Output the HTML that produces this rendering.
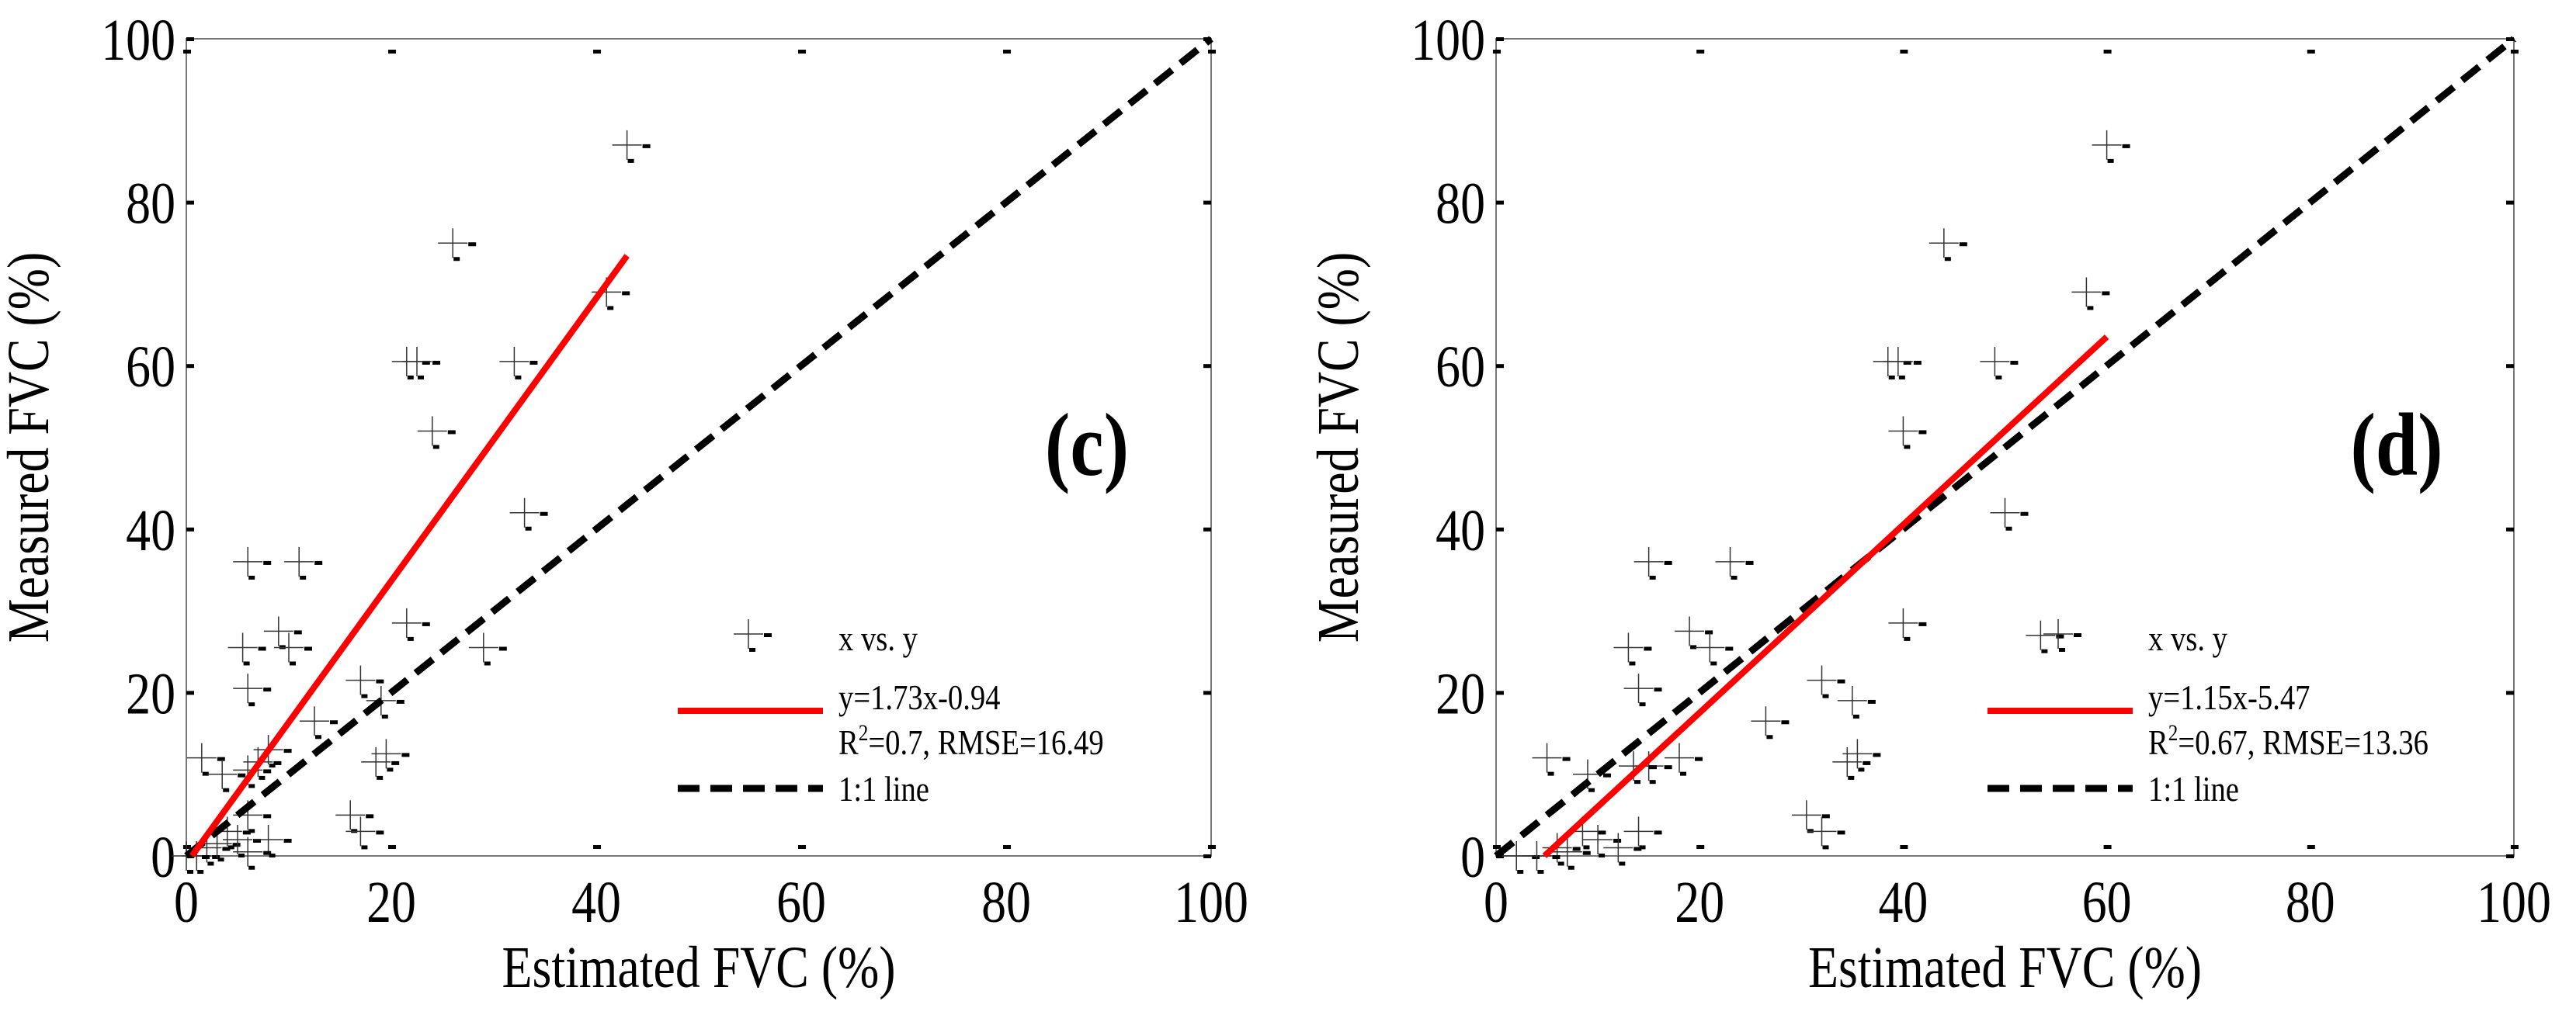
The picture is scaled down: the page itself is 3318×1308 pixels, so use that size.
<!DOCTYPE html>
<html><head><meta charset="utf-8"><style>
html,body{margin:0;padding:0;background:#fff;}
svg{display:block;}
svg text{font-family:"Liberation Serif","DejaVu Serif",serif;}
</style></head><body>
<svg id="fig" width="3318" height="1308" viewBox="0 0 3318 1308" xmlns="http://www.w3.org/2000/svg"></svg>
<script>
const ticks = [0,20,40,60,80,100];
const tickLabels = ["0","20","40","60","80","100"];
const cX = [43,26,41,21.5,22.5,32,24,33,6,11,9,21.5,5.5,10,29,6,17,19,12.5,19.5,18.5,1.5,7,6,8,3.5,16,17,6,4,2,1,0,3,5,8,6];
const cY = [87,75,69,60.5,60.5,60.5,52,42,36,36,27.5,28.5,25.5,25.5,25.5,20.5,21.5,19,16.5,12.5,11.5,12,11.5,10.5,13,10,5,3,5,3,1,0,0,1.5,2,2,0.5];
const dX = [60,44,58,38.5,39.5,49,40,50,15,23,19,40,53.5,13,21,14,32,35,26.5,35.5,34.5,5,18,15,13.5,9,30.5,32,14,8.5,10,6,2,4,7,12];
const dY = [87,75,69,60.5,60.5,60.5,52,42,36,36,27.5,28.5,27,25.5,25.5,20.5,21.5,19,16.5,12.5,11.5,12,12,11,11,10,5,3,3,3,2,1,0,0,0.5,1];
const cFit = [1.73,-0.94]; const cFitRange=[0.55,43];
const dFit = [1.15,-5.47]; const dFitRange=[4.76,60];
const NS="http://www.w3.org/2000/svg";
const svg=document.getElementById('fig');
function mk(tag,attrs,parent){const e=document.createElementNS(NS,tag);for(const k in attrs)e.setAttribute(k,attrs[k]);(parent||svg).appendChild(e);return e;}
function txt(parent,x,y,size,anchor,str,extra){
  const t=mk('text',Object.assign({x:0,y:0,'font-size':size,'text-anchor':anchor,'font-family':'Liberation Serif, serif',transform:`translate(${x},${y}) scale(0.84,1)`},extra||{}),parent);
  t.textContent=str;return t;
}
function panel(L,R,T,B,xs,ys,fit,range,tag,eq,stats){
  const g=mk('g',{});
  
  
  const sx=v=>L+(R-L)*v/100, sy=v=>B-(B-T)*v/100;
  const frame=mk('rect',{x:L,y:T,width:R-L,height:B-T,fill:'none',stroke:'#777','stroke-width':2},g);
  
  
  ticks.forEach((t,i)=>{
    mk('rect',{x:sx(t)-4,y:T+14,width:10,height:5,fill:'#000'},g);
    mk('rect',{x:sx(t)-4,y:B-14,width:10,height:5,fill:'#000'},g);
    mk('rect',{x:L,y:sy(t)-2,width:10,height:5,fill:'#000'},g);
    mk('rect',{x:R-10,y:sy(t)-2,width:10,height:5,fill:'#000'},g);
    const xl=txt(g,sx(t),1188,76,'middle',tickLabels[i]);
    
    
    const yl=txt(g,L-14,sy(t)+27,76,'end',tickLabels[i]);
    
    
  });
  const xt=txt(g,(L+R)/2,1272,76,'middle','Estimated FVC (%)');
  
  
  const yt=mk('text',{x:0,y:0,'font-size':76,'text-anchor':'middle','font-family':'Liberation Serif, serif',transform:`translate(${L-178},${(T+B)/2}) rotate(-90) scale(0.84,1)`},g);yt.textContent='Measured FVC (%)';
  
  
  xs.forEach((x,i)=>{
    const px=sx(x),py=sy(ys[i]);
    const m=mk('g',{},g);
    
    
    mk('line',{x1:px-19,y1:py,x2:px+19,y2:py,stroke:'#333','stroke-width':1.5},m);
    mk('line',{x1:px,y1:py-19,x2:px,y2:py+19,stroke:'#333','stroke-width':1.5},m);
    mk('rect',{x:px+20,y:py-1,width:10,height:5,fill:'#000'},m);
    mk('rect',{x:px+1,y:py+18,width:8,height:5,fill:'#000'},m);
  });
  const one=mk('line',{x1:sx(0),y1:sy(0),x2:sx(100),y2:sy(100),stroke:'#000','stroke-width':9,'stroke-dasharray':'28 14'},g);
  
  
  const fl=mk('line',{x1:sx(range[0]),y1:sy(fit[0]*range[0]+fit[1]),x2:sx(range[1]),y2:sy(fit[0]*range[1]+fit[1]),stroke:'#f00','stroke-width':8},g);
  
  
  const lab=txt(g,L+1160,612,116,'middle','('+tag+')',{'font-weight':'bold'});
  
  
  const lg=mk('g',{},g);
  
  
  const ox=L+724;
  mk('line',{x1:ox-19,y1:817,x2:ox+19,y2:817,stroke:'#333','stroke-width':1.5},lg);
  mk('line',{x1:ox,y1:798,x2:ox,y2:836,stroke:'#333','stroke-width':1.5},lg);
  mk('rect',{x:ox+20,y:816,width:10,height:5,fill:'#000'},lg);
  mk('rect',{x:ox+1,y:835,width:8,height:5,fill:'#000'},lg);
  txt(lg,L+840,838,46,'start','x vs. y');
  mk('line',{x1:L+633,y1:916,x2:L+820,y2:916,stroke:'#f00','stroke-width':8},lg);
  txt(lg,L+840,914,46,'start',eq);
  const t3=mk('text',{x:0,y:0,'font-size':46,'font-family':'Liberation Serif, serif',transform:`translate(${L+840},${972}) scale(0.84,1)`},lg);
  t3.innerHTML='R<tspan dy="-18" font-size="30">2</tspan><tspan dy="18">'+stats+'</tspan>';
  mk('line',{x1:L+633,y1:1016,x2:L+820,y2:1016,stroke:'#000','stroke-width':9,'stroke-dasharray':'28 14'},lg);
  txt(lg,L+840,1032,46,'start','1:1 line');
}
panel(240,1560,50,1103,cX,cY,cFit,cFitRange,'c','y=1.73x-0.94','=0.7, RMSE=16.49');
panel(1927,3238,50,1103,dX,dY,dFit,dFitRange,'d','y=1.15x-5.47','=0.67, RMSE=13.36');
</script>
</body></html>
